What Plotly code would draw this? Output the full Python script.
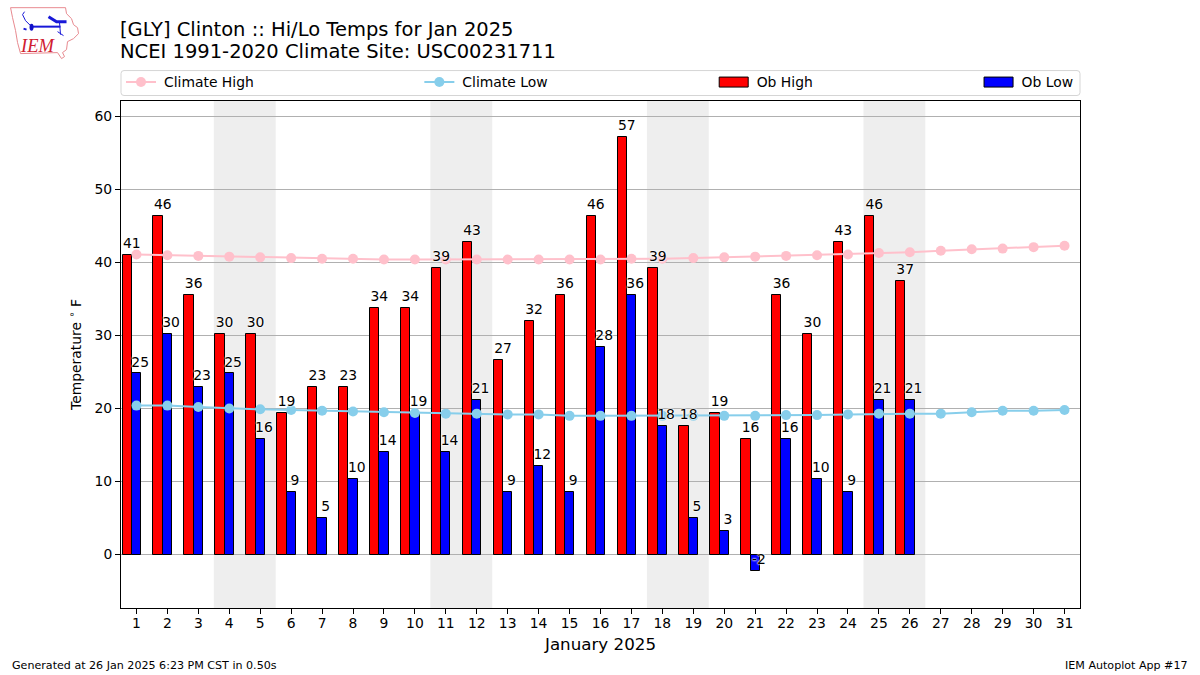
import plotly.graph_objects as go

days = list(range(1, 32))
ob_days = days[:26]
ob_high = [41, 46.4, 35.6, 30.2, 30.2, 19.4, 23, 23, 33.8, 33.8, 39.2, 42.8, 26.6, 32, 35.6, 46.4,
           57.2, 39.2, 17.6, 19.4, 15.8, 35.6, 30.2, 42.8, 46.4, 37.4]
ob_low = [24.8, 30.2, 23, 24.8, 15.8, 8.6, 5, 10.4, 14, 19.4, 14, 21.2, 8.6, 12.2, 8.6, 28.4,
          35.6, 17.6, 5, 3.2, -2.2, 15.8, 10.4, 8.6, 21.2, 21.2]
climate_high = [41.1, 41.0, 40.9, 40.8, 40.7, 40.6, 40.5, 40.5, 40.4, 40.4, 40.4, 40.4, 40.4, 40.4, 40.4, 40.4,
                40.5, 40.5, 40.6, 40.7, 40.8, 40.9, 41.0, 41.1, 41.3, 41.4, 41.6, 41.8, 41.9, 42.1, 42.3]
climate_low = [20.4, 20.4, 20.2, 20.0, 19.9, 19.8, 19.7, 19.6, 19.5, 19.4, 19.3, 19.3, 19.2, 19.2, 19.0, 19.0,
               19.0, 19.0, 19.0, 19.0, 19.0, 19.1, 19.1, 19.2, 19.3, 19.3, 19.3, 19.5, 19.7, 19.7, 19.8]
weekends = [(3.5, 5.5), (10.5, 12.5), (17.5, 19.5), (24.5, 26.5)]
title_lines = ["[GLY] Clinton :: Hi/Lo Temps for Jan 2025", "NCEI 1991-2020 Climate Site: USC00231711"]
footer_left = "Generated at 26 Jan 2025 6:23 PM CST in 0.50s"
footer_right = "IEM Autoplot App #17"

W, H = 1200, 675
L, R, T, B = 120.5, 1080, 100.5, 608.5
FONT = "DejaVu Sans"


def px(x):
    return (x - L) / (R - L)


def py(y):
    return (B - y) / (B - T)


def path(points, close=False):
    s = "M" + " L".join(f"{px(x):.5f},{py(y):.5f}" for x, y in points)
    return s + (" Z" if close else "")


fig = go.Figure()
fig.add_bar(x=ob_days, y=ob_high, name="Ob High", width=0.3, offset=-0.45, showlegend=True, legend="legend3",
            marker=dict(color="#ff0000", line=dict(color="black", width=1)))
fig.add_bar(x=ob_days, y=ob_low, name="Ob Low", width=0.3, offset=-0.15, showlegend=True, legend="legend4",
            marker=dict(color="#0000ff", line=dict(color="black", width=1)))
fig.add_scatter(x=days, y=climate_high, name="Climate High", mode="lines+markers", showlegend=True, legend="legend",
                line=dict(color="#ffc0cb", width=2), marker=dict(color="#ffc0cb", size=10))
fig.add_scatter(x=days, y=climate_low, name="Climate Low", mode="lines+markers", showlegend=True, legend="legend2",
                line=dict(color="#87ceeb", width=2), marker=dict(color="#87ceeb", size=10))
label_font = dict(family=FONT, size=13.9, color="black", shadow="0 0 2px white, 0 0 2px white, 0 0 2px white")
hidden_marker = dict(size=4, color="rgba(0,0,0,0)")
fig.add_scatter(x=[d - 0.15 for d in ob_days], y=ob_high, mode="markers+text", texttemplate="%{y:.0f}",
                textposition="top center", textfont=label_font, marker=hidden_marker, showlegend=False, hoverinfo="skip")
fig.add_scatter(x=[d + 0.12 for d in ob_days], y=ob_low, mode="markers+text", texttemplate="%{y:.0f}",
                textposition="top center", textfont=label_font, marker=hidden_marker, showlegend=False, hoverinfo="skip")

for a, b in weekends:
    fig.add_shape(type="rect", layer="below", xref="x", yref="paper", x0=a, x1=b, y0=0, y1=1,
                  fillcolor="#eeeeee", line_width=0)

# legend frame
x0, x1, y0, y1, r = 120.5, 1080, 70, 95, 3
fig.add_shape(type="path", layer="above", xref="paper", yref="paper",
              path=(f"M{px(x0+r):.5f},{py(y0):.5f} L{px(x1-r):.5f},{py(y0):.5f} "
                    f"Q{px(x1):.5f},{py(y0):.5f} {px(x1):.5f},{py(y0+r):.5f} L{px(x1):.5f},{py(y1-r):.5f} "
                    f"Q{px(x1):.5f},{py(y1):.5f} {px(x1-r):.5f},{py(y1):.5f} L{px(x0+r):.5f},{py(y1):.5f} "
                    f"Q{px(x0):.5f},{py(y1):.5f} {px(x0):.5f},{py(y1-r):.5f} L{px(x0):.5f},{py(y0+r):.5f} "
                    f"Q{px(x0):.5f},{py(y0):.5f} {px(x0+r):.5f},{py(y0):.5f} Z"),
              line=dict(color="#d5d5d5", width=1), fillcolor="rgba(0,0,0,0)")

# IEM logo
state = [(10, 7), (65, 7), (66, 13), (71, 18), (73, 24), (77, 27), (78, 33), (73, 38), (67, 41), (66, 49), (62, 52),
         (64, 56), (61, 58), (57, 52), (20, 53), (17, 42), (15, 30), (12, 17)]
fig.add_shape(type="path", xref="paper", yref="paper", path=path(state, True),
              line=dict(color="#e88a90", width=1), fillcolor="white")
for seg, w in [([(31, 26), (60, 26)], 2), ([(24, 11), (22, 14), (25, 20), (31, 26)], 1), ([(59, 22), (60, 34)], 1),
               ([(48, 16), (56, 21), (66, 21)], 3), ([(57, 31), (63, 35)], 1), ([(23, 28), (26, 29)], 2)]:
    fig.add_shape(type="path", xref="paper", yref="paper", path=path(seg),
                  line=dict(color="#1818d8", width=w))
fig.add_shape(type="circle", xref="paper", yref="paper", x0=px(29), x1=px(33), y0=py(30), y1=py(23),
              fillcolor="#1010c8", line_width=0)

ann = dict(xref="paper", yref="paper", showarrow=False, xanchor="left", yanchor="middle")
fig.add_annotation(x=px(17), y=py(45), text="<i>IEM</i>", font=dict(family="Liberation Serif", size=18.5, color="#d02030"), **ann)
fig.add_annotation(x=px(117), y=py(29), text=title_lines[0], font=dict(family=FONT, size=19.5, color="black"), **ann)
fig.add_annotation(x=px(117), y=py(51), text=title_lines[1], font=dict(family=FONT, size=19.5, color="black"), **ann)
fig.add_annotation(x=px(9), y=py(666), text=footer_left, font=dict(family=FONT, size=11.1, color="black"), **ann)
fig.add_annotation(x=px(1190), y=py(666), text=footer_right, font=dict(family=FONT, size=11.1, color="black"),
                   xref="paper", yref="paper", showarrow=False, xanchor="right", yanchor="middle")

axis = dict(showline=True, linecolor="black", linewidth=1, mirror=True, ticks="outside", ticklen=5,
            tickwidth=1, tickcolor="black", zeroline=False, tickfont=dict(family=FONT, size=13.9, color="black"))
fig.update_xaxes(range=[0.5, 31.5], tickmode="array", tickvals=days, ticktext=[str(d) for d in days], showgrid=False,
                 ticklabelstandoff=-3,
                 title=dict(text="January 2025", font=dict(family=FONT, size=16.7, color="black"), standoff=8), **axis)
fig.update_yaxes(range=[-7.31, 62.11], tick0=0, dtick=10, showgrid=True, gridcolor="#b0b0b0", gridwidth=1,
                 title=dict(text="Temperature <sup>∘</sup> F", font=dict(family=FONT, size=13.9, color="black"), standoff=9), **axis)
legend_common = dict(orientation="h", traceorder="normal", y=py(82), yanchor="middle", itemwidth=30,
                     bgcolor="rgba(0,0,0,0)", font=dict(family=FONT, size=13.9, color="black"))
fig.update_layout(width=W, height=H, autosize=False, margin=dict(l=L, r=W - R, t=T, b=H - B, pad=0),
                  paper_bgcolor="white", plot_bgcolor="white", barmode="overlay", bargap=0,
                  font=dict(family=FONT, color="black"), hovermode=False,
                  legend=dict(x=px(120.5), xanchor="left", **legend_common),
                  legend2=dict(x=px(419), xanchor="left", **legend_common),
                  legend3=dict(x=px(713.5), xanchor="left", **legend_common),
                  legend4=dict(x=px(978.5), xanchor="left", **legend_common))

post = """
document.body.style.margin='0';
var gd=document.getElementById('{plot_id}');
function fixLegend(){
  gd.querySelectorAll('g.legendpoints path').forEach(function(p){
    var d=p.getAttribute('d')||'';
    if(d.indexOf('M6,6')===0){p.setAttribute('d','M14.5,5H-14.5V-5H14.5Z');}
  });
  gd.querySelectorAll('g.traces text').forEach(function(t){
    if(t.parentNode.classList.contains('textpoint')){return;}
    t.setAttribute('transform','translate(3,0)');
  });
}
fixLegend();
gd.on('plotly_afterplot',fixLegend);
[0,50,200,500,1000].forEach(function(t){setTimeout(fixLegend,t);});
"""
fig.write_html("out.html", post_script=post, config={"displayModeBar": False, "responsive": False})
